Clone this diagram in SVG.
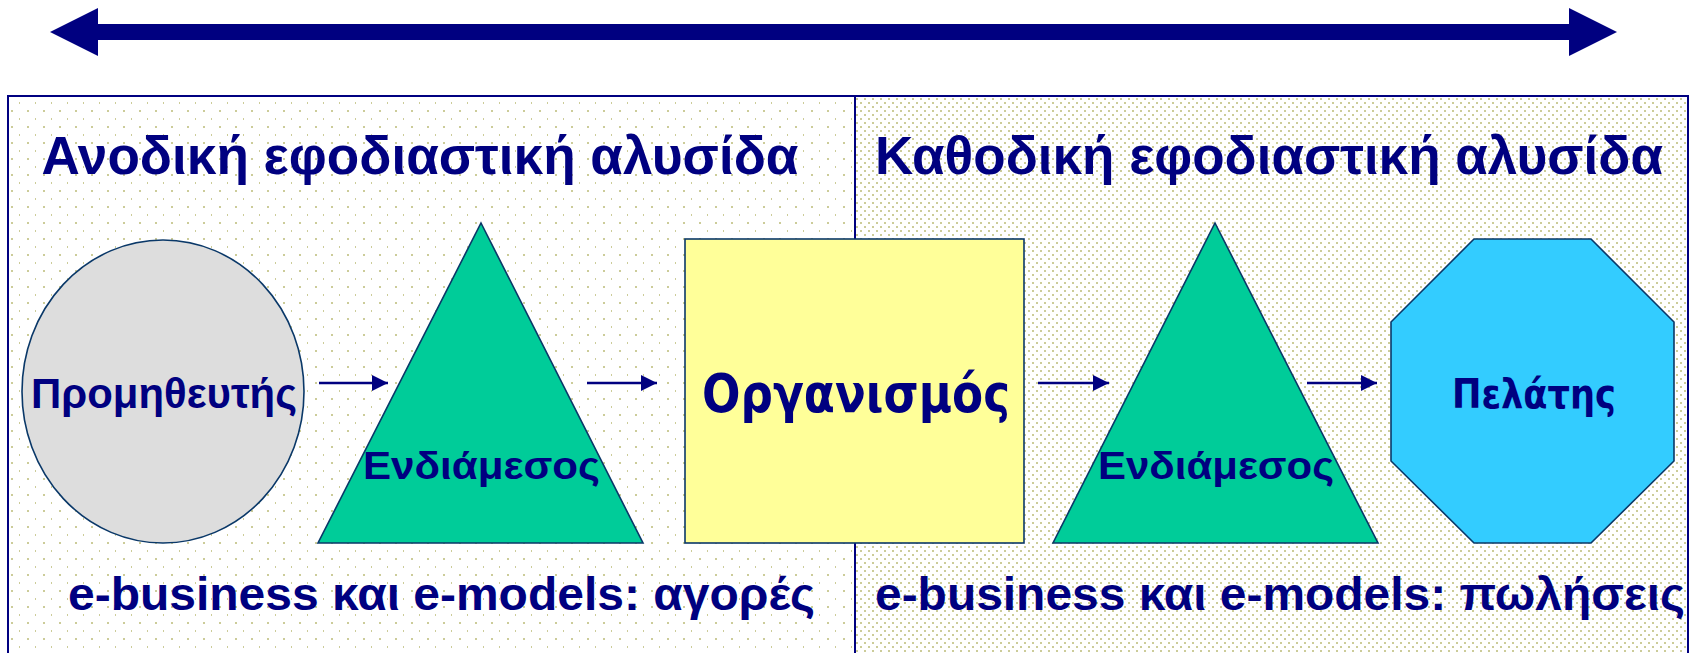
<svg xmlns="http://www.w3.org/2000/svg" width="1698" height="653" viewBox="0 0 1698 653">
<style>
.shape{stroke:#0A3868;stroke-width:1.6}
.lbl{fill:#000080;font-weight:bold}
.arial{font-family:"Liberation Sans",Arial,sans-serif}
.tah{font-family:"DejaVu Sans","Liberation Sans",sans-serif}
.conn{stroke:#000080;stroke-width:2.5;fill:none}
</style>
<defs>
<pattern id="sparse" x="4" y="94" width="16" height="16" patternUnits="userSpaceOnUse">
<rect x="15" y="8" width="2" height="2" fill="#CCCC99"/>
<rect x="7" y="0" width="2" height="2" fill="#CCCC99"/>
</pattern>
<pattern id="dense" x="0" y="0" width="8" height="8" patternUnits="userSpaceOnUse">
<rect x="0" y="2" width="2" height="2" fill="#CCCC99"/>
<rect x="4" y="6" width="2" height="2" fill="#CCCC99"/>
</pattern>
<marker id="ah" markerWidth="16" markerHeight="16" refX="16" refY="8" orient="auto" markerUnits="userSpaceOnUse">
<path d="M0,0 L16,8 L0,16 Z" fill="#000080"/>
</marker>
</defs>
<rect width="1698" height="653" fill="#FFFFFF"/>
<g id="top-arrow">
<polygon points="50,32 98,8 98,24 1569,24 1569,8 1617,32 1569,56 1569,40 98,40 98,56" fill="#000080"/>
</g>
<g id="panels">
<rect x="8" y="96" width="847" height="620" fill="url(#sparse)"/>
<rect x="855" y="96" width="833" height="620" fill="url(#dense)"/>
<rect x="8" y="96" width="1680" height="620" fill="none" stroke="#000080" stroke-width="2"/>
<line x1="855" y1="96" x2="855" y2="653" stroke="#000080" stroke-width="2"/>
</g>
<g id="titles">
<text class="lbl arial" x="420" y="174" font-size="53" text-anchor="middle" textLength="757" lengthAdjust="spacingAndGlyphs">Ανοδική εφοδιαστική αλυσίδα</text>
<text class="lbl arial" x="1269" y="174" font-size="53" text-anchor="middle" textLength="788" lengthAdjust="spacingAndGlyphs">Καθοδική εφοδιαστική αλυσίδα</text>
</g>
<g id="connectors">
<line class="conn" x1="319" y1="383" x2="388" y2="383" marker-end="url(#ah)"/>
<line class="conn" x1="587" y1="383" x2="657" y2="383" marker-end="url(#ah)"/>
<line class="conn" x1="1038" y1="383" x2="1109" y2="383" marker-end="url(#ah)"/>
<line class="conn" x1="1307" y1="383" x2="1377" y2="383" marker-end="url(#ah)"/>
</g>
<g id="supplier">
<ellipse class="shape" cx="163" cy="391.5" rx="141" ry="151.5" fill="#DDDDDD"/>
<text class="lbl arial" x="31" y="408" font-size="42" textLength="266" lengthAdjust="spacingAndGlyphs">Προμηθευτής</text>
</g>
<g id="intermediary-1">
<polygon class="shape" points="481,223 643,543 318,543" fill="#00CC99"/>
<text class="lbl arial" x="363" y="479" font-size="39" textLength="237" lengthAdjust="spacingAndGlyphs">Ενδιάμεσος</text>
</g>
<g id="organization">
<rect class="shape" x="685" y="239" width="339" height="304" fill="#FFFF99"/>
<text class="lbl tah" x="702" y="412" font-size="53" textLength="308" lengthAdjust="spacingAndGlyphs">Οργανισμός</text>
</g>
<g id="intermediary-2">
<polygon class="shape" points="1215,223 1378,543 1053,543" fill="#00CC99"/>
<text class="lbl arial" x="1098" y="479" font-size="39" textLength="236" lengthAdjust="spacingAndGlyphs">Ενδιάμεσος</text>
</g>
<g id="customer">
<polygon class="shape" points="1474,239 1591,239 1674,322 1674,461 1591,543 1474,543 1391,461 1391,322" fill="#33CCFF"/>
<text class="lbl tah" x="1452" y="408" font-size="41" textLength="164" lengthAdjust="spacingAndGlyphs">Πελάτης</text>
</g>
<g id="footers">
<text class="lbl arial" x="68" y="610" font-size="46" textLength="747" lengthAdjust="spacingAndGlyphs">e-business και e-models: αγορές</text>
<text class="lbl arial" x="875" y="610" font-size="46" textLength="810" lengthAdjust="spacingAndGlyphs">e-business και e-models: πωλήσεις</text>
</g>
</svg>
